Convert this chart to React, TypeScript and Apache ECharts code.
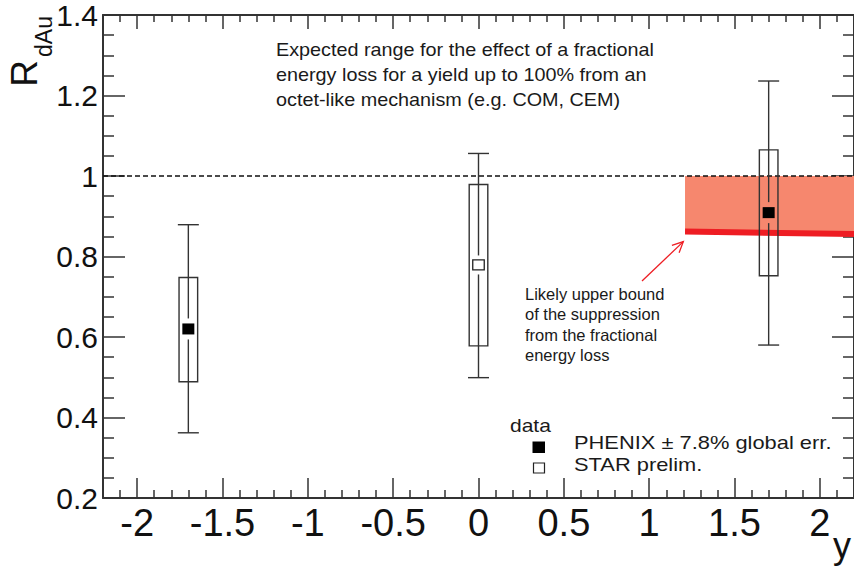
import React, { useEffect, useRef } from "react";
import * as echarts from "echarts";

// ---- data ----
const phenixX = [-1.7, 1.7];
const phenixY = [0.62, 0.909];
const phenixStatLow = [0.362, 0.58];
const phenixStatHigh = [0.879, 1.236];
const phenixSysLow = [0.489, 0.752];
const phenixSysHigh = [0.748, 1.065];

const starX = [0];
const starY = [0.779];
const starStatLow = [0.499];
const starStatHigh = [1.056];
const starSysLow = [0.578];
const starSysHigh = [0.979];

const bandX = [1.21, 2.2];
const bandTop = [1.0, 1.0];
const bandBottom = [0.862, 0.856];

const refX = [-2.2, 2.2];
const refY = [1, 1];

const arrowFrom = [0.958, 0.739];
const arrowTo = [1.2, 0.837];

const topTextLines = [
  "Expected range for the effect of a fractional",
  "energy loss for a yield up to 100% from an",
  "octet-like mechanism (e.g. COM, CEM)",
];
const noteLines = [
  "Likely upper bound",
  "of the suppression",
  "from the fractional",
  "energy loss",
];
const legendTitle = "data";
const legendNames = ["PHENIX \u00b1 7.8% global err.", "STAR prelim."];

const FONT = "'Liberation Sans', Arial, Helvetica, sans-serif";
const AX = "#333";

function errRender(filled: boolean) {
  return (params: any, api: any) => {
    const x = api.value(0);
    const c = api.coord([x, api.value(1)]);
    const lo = api.coord([x, api.value(2)])[1];
    const hi = api.coord([x, api.value(3)])[1];
    const sLo = api.coord([x, api.value(4)])[1];
    const sHi = api.coord([x, api.value(5)])[1];
    const st = { stroke: AX, lineWidth: 1.4 };
    const gap = filled ? 10.5 : 9.5;
    const mw = filled ? 12 : 11.5;
    const mh = filled ? 11 : 10;
    const hw = 9.3;
    const cw = 10.5;
    return {
      type: "group",
      children: [
        { type: "rect", shape: { x: c[0] - hw, y: sHi, width: hw * 2, height: sLo - sHi }, style: { stroke: AX, lineWidth: 1.4, fill: "none" } },
        { type: "line", shape: { x1: c[0], y1: hi, x2: c[0], y2: c[1] - gap }, style: st },
        { type: "line", shape: { x1: c[0], y1: c[1] + gap, x2: c[0], y2: lo }, style: st },
        { type: "line", shape: { x1: c[0] - cw, y1: hi, x2: c[0] + cw, y2: hi }, style: st },
        { type: "line", shape: { x1: c[0] - cw, y1: lo, x2: c[0] + cw, y2: lo }, style: st },
        filled
          ? { type: "rect", shape: { x: c[0] - mw / 2, y: c[1] - mh / 2, width: mw, height: mh }, style: { fill: "#000" } }
          : { type: "rect", shape: { x: c[0] - mw / 2, y: c[1] - mh / 2, width: mw, height: mh }, style: { fill: "#fff", stroke: "#222", lineWidth: 1.3 } },
      ],
    };
  };
}

export default function App() {
  const ref = useRef<HTMLDivElement>(null);
  useEffect(() => {
    document.body.style.margin = "0";
    if (!ref.current) return;
    const chart = echarts.init(ref.current, undefined, { renderer: "svg" });

    const xCommon = {
      type: "value",
      min: -2.2,
      max: 2.2,
      splitNumber: 9,
      splitLine: { show: false },
      axisLine: { show: true, onZero: false, lineStyle: { color: AX, width: 2 } },
    };
    const yCommon = {
      type: "value",
      min: 0.2,
      max: 1.4,
      interval: 0.2,
      splitLine: { show: false },
      axisLine: { show: true, onZero: false, lineStyle: { color: AX, width: 2 } },
    };

    const legendGraphics: any[] = [
      { type: "text", x: 510, y: 426, style: { text: legendTitle, font: `17.5px ${FONT}`, fill: "#1a1a1a", align: "left", verticalAlign: "middle" }, scaleX: 1.2, z: 100 },
      { type: "rect", shape: { x: 532.5, y: 441.5, width: 12.5, height: 11.5 }, style: { fill: "#000" }, z: 100 },
      { type: "text", x: 574, y: 442.5, style: { text: legendNames[0], font: `17.5px ${FONT}`, fill: "#1a1a1a", align: "left", verticalAlign: "middle" }, scaleX: 1.25, z: 100 },
      { type: "rect", shape: { x: 533.5, y: 463, width: 11, height: 10 }, style: { fill: "#fff", stroke: "#222", lineWidth: 1.2 }, z: 100 },
      { type: "text", x: 574, y: 464.5, style: { text: legendNames[1], font: `17.5px ${FONT}`, fill: "#1a1a1a", align: "left", verticalAlign: "middle" }, scaleX: 1.25, z: 100 },
    ];

    const option: any = {
      animation: false,
      backgroundColor: "#fff",
      grid: { left: 103, right: -3, top: 15, bottom: 69 },
      xAxis: [
        {
          ...xCommon,
          position: "bottom",
          axisTick: { show: true, inside: true, length: 20, lineStyle: { color: AX, width: 1.5 } },
          minorTick: { show: true, splitNumber: 5, length: 8, lineStyle: { color: AX, width: 1.5 } },
          axisLabel: { show: true, showMinLabel: false, showMaxLabel: false, fontSize: 38, color: "#111", margin: 6, fontFamily: FONT },
        },
        {
          ...xCommon,
          position: "top",
          axisTick: { show: true, inside: true, length: 14, lineStyle: { color: AX, width: 1.5 } },
          minorTick: { show: true, splitNumber: 5, length: 7, lineStyle: { color: AX, width: 1.5 } },
          axisLabel: { show: false },
        },
      ],
      yAxis: [
        {
          ...yCommon,
          position: "left",
          axisTick: { show: true, inside: true, length: 22, lineStyle: { color: AX, width: 1.5 } },
          minorTick: { show: true, splitNumber: 4, length: 11, lineStyle: { color: AX, width: 1.5 } },
          axisLabel: { show: true, fontSize: 30, color: "#111", margin: 5, fontFamily: FONT },
        },
        {
          ...yCommon,
          position: "right",
          axisTick: { show: true, inside: true, length: 22, lineStyle: { color: AX, width: 1.5 } },
          minorTick: { show: true, splitNumber: 4, length: 11, lineStyle: { color: AX, width: 1.5 } },
          axisLabel: { show: false },
        },
      ],
      series: [
        {
          type: "custom",
          name: "band",
          xAxisIndex: 0,
          yAxisIndex: 0,
          data: [[bandX[0], bandTop[0]]],
          renderItem: (params: any, api: any) => {
            const pts = [
              api.coord([bandX[0], bandTop[0]]),
              api.coord([bandX[1], bandTop[1]]),
              api.coord([bandX[1], bandBottom[1]]),
              api.coord([bandX[0], bandBottom[0]]),
            ];
            return { type: "polygon", shape: { points: pts }, style: { fill: "#F6876E" } };
          },
          z: 1,
        },
        {
          type: "line",
          name: "bound",
          data: bandX.map((x, i) => [x, bandBottom[i]]),
          symbol: "none",
          lineStyle: { color: "#EE1D23", width: 6 },
          z: 2,
        },
        {
          type: "line",
          name: "ref",
          data: refX.map((x, i) => [x, refY[i]]),
          symbol: "none",
          lineStyle: { color: "#111", width: 1.7, type: [5, 3] },
          z: 3,
        },
        {
          type: "custom",
          name: "arrow",
          data: [[arrowFrom[0], arrowFrom[1], arrowTo[0], arrowTo[1]]],
          renderItem: (params: any, api: any) => {
            const a = api.coord([api.value(0), api.value(1)]);
            const b = api.coord([api.value(2), api.value(3)]);
            const ang = Math.atan2(b[1] - a[1], b[0] - a[0]);
            const L = 12, spread = 0.45;
            const h1 = [b[0] - L * Math.cos(ang - spread), b[1] - L * Math.sin(ang - spread)];
            const h2 = [b[0] - L * Math.cos(ang + spread), b[1] - L * Math.sin(ang + spread)];
            const st = { stroke: "#EE1D23", lineWidth: 1.3 };
            return {
              type: "group",
              children: [
                { type: "line", shape: { x1: a[0], y1: a[1], x2: b[0], y2: b[1] }, style: st },
                { type: "polyline", shape: { points: [h1, b, h2] }, style: { ...st, fill: "none" } },
              ],
            };
          },
          z: 4,
        },
        {
          type: "custom",
          name: legendNames[0],
          data: phenixX.map((x, i) => [x, phenixY[i], phenixStatLow[i], phenixStatHigh[i], phenixSysLow[i], phenixSysHigh[i]]),
          renderItem: errRender(true),
          z: 5,
        },
        {
          type: "custom",
          name: legendNames[1],
          data: starX.map((x, i) => [x, starY[i], starStatLow[i], starStatHigh[i], starSysLow[i], starSysHigh[i]]),
          renderItem: errRender(false),
          z: 5,
        },
      ],
      graphic: [
        { type: "text", x: 24, y: 73.5, rotation: Math.PI / 2, style: { text: "R", font: `37px ${FONT}`, fill: "#111", align: "center", verticalAlign: "middle" } },
        { type: "text", x: 44, y: 36.5, rotation: Math.PI / 2, style: { text: "dAu", font: `23px ${FONT}`, fill: "#111", align: "center", verticalAlign: "middle" } },
        { type: "text", x: 833, y: 545, style: { text: "y", font: `36px ${FONT}`, fill: "#111", align: "left", verticalAlign: "middle" } },
        ...topTextLines.map((t, i) => ({
          type: "text",
          x: 276,
          y: 49.5 + i * 25,
          scaleX: 1.1,
          style: { text: t, font: `18px ${FONT}`, fill: "#1a1a1a", align: "left", verticalAlign: "middle" },
        })),
        ...noteLines.map((t, i) => ({
          type: "text",
          x: 525,
          y: 293.5 + i * 20.5,
          style: { text: t, font: `16.5px ${FONT}`, fill: "#1a1a1a", align: "left", verticalAlign: "middle" },
        })),
        ...legendGraphics,
      ],
    };
    chart.setOption(option);
    return () => chart.dispose();
  }, []);
  return <div ref={ref} style={{ width: 854, height: 567 }} />;
}
